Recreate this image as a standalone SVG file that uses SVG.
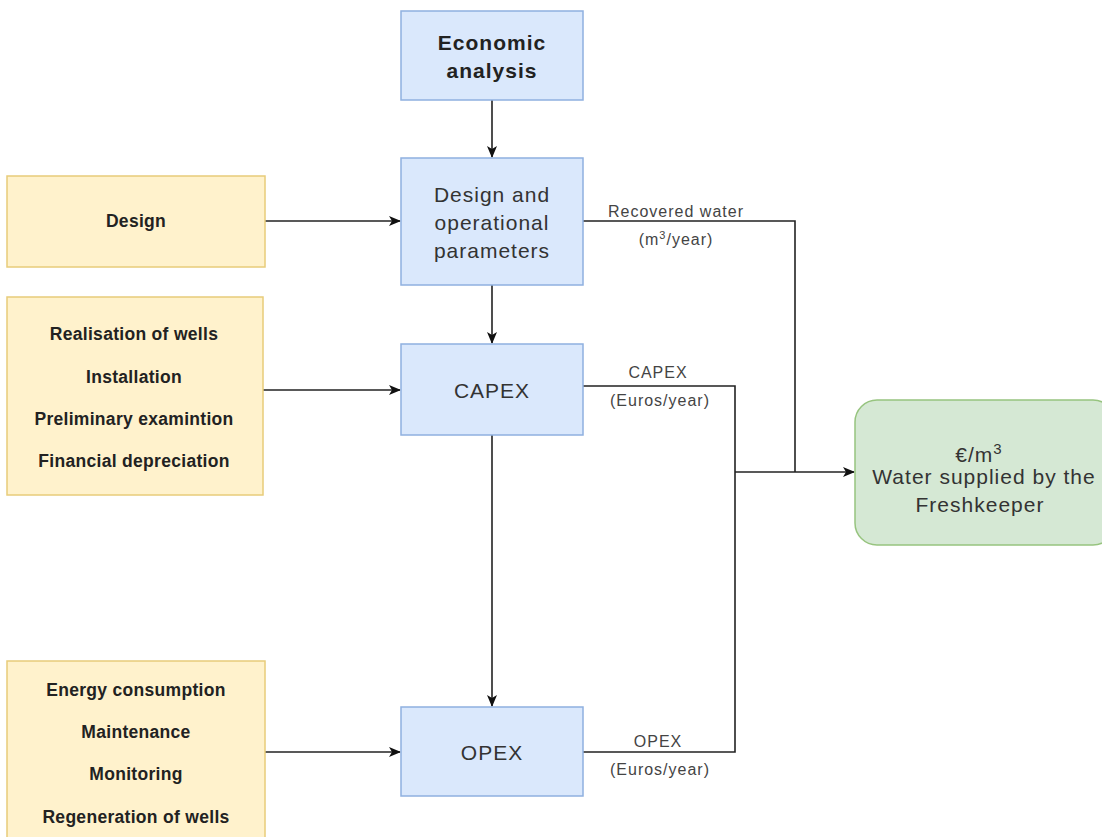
<svg xmlns="http://www.w3.org/2000/svg" width="1102" height="837" viewBox="0 0 1102 837">
  <style>
    .blue { fill: #dae8fc; stroke: #8fb0e0; stroke-width: 1.5; }
    .yellow { fill: #fff2cc; stroke: #e8cc7a; stroke-width: 1.5; }
    .green { fill: #d5e8d4; stroke: #97c47f; stroke-width: 1.5; }
    .t { font-family: "Liberation Sans", Arial, sans-serif; fill: #222; text-anchor: middle; }
    .bold { font-weight: bold; font-size: 17.5px; letter-spacing: 0.3px; }
    .title { font-weight: bold; font-size: 21px; letter-spacing: 1px; }
    .big { font-size: 21px; letter-spacing: 1px; fill: #333; }
    .lbl { font-family: "Liberation Sans", Arial, sans-serif; fill: #444; font-size: 16px; letter-spacing: 1px; text-anchor: middle; }
    .wire { fill: none; stroke: #222; stroke-width: 1.6; }
  </style>
  <defs>
    <marker id="arrow" markerWidth="12" markerHeight="10" refX="11" refY="5" orient="auto" markerUnits="userSpaceOnUse">
      <path d="M0,0 L12,5 L0,10 L3,5 Z" fill="#111"/>
    </marker>
  </defs>
  <rect width="1102" height="837" fill="#ffffff"/>

  <g id="connectors">
    <path class="wire" d="M492,100 V157" marker-end="url(#arrow)"/>
    <path class="wire" d="M265,221 H400" marker-end="url(#arrow)"/>
    <path class="wire" d="M492,285 V343" marker-end="url(#arrow)"/>
    <path class="wire" d="M263,390 H400" marker-end="url(#arrow)"/>
    <path class="wire" d="M492,435 V706" marker-end="url(#arrow)"/>
    <path class="wire" d="M265,752 H400" marker-end="url(#arrow)"/>
    <path class="wire" d="M583,221 H795 V472"/>
    <path class="wire" d="M583,386 H735 V752 H583"/>
    <path class="wire" d="M735,472 H854" marker-end="url(#arrow)"/>
  </g>

  <g id="edge-labels">
    <text class="lbl" x="676" y="217">Recovered water</text>
    <text class="lbl" x="676" y="245">(m<tspan dy="-6" font-size="11">3</tspan><tspan dy="6">/year)</tspan></text>
    <text class="lbl" x="658" y="378">CAPEX</text>
    <text class="lbl" x="660" y="406">(Euros/year)</text>
    <text class="lbl" x="658" y="747">OPEX</text>
    <text class="lbl" x="660" y="775">(Euros/year)</text>
  </g>

  <g id="economic-analysis">
    <rect class="blue" x="401" y="11" width="182" height="89"/>
    <text class="t title" x="492" y="50">Economic</text>
    <text class="t title" x="492" y="78">analysis</text>
  </g>

  <g id="design-parameters">
    <rect class="blue" x="401" y="158" width="182" height="127"/>
    <text class="t big" x="492" y="202">Design and</text>
    <text class="t big" x="492" y="230">operational</text>
    <text class="t big" x="492" y="258">parameters</text>
  </g>

  <g id="capex">
    <rect class="blue" x="401" y="344" width="182" height="91"/>
    <text class="t big" x="492" y="398">CAPEX</text>
  </g>

  <g id="opex">
    <rect class="blue" x="401" y="707" width="182" height="89"/>
    <text class="t big" x="492" y="760">OPEX</text>
  </g>

  <g id="design">
    <rect class="yellow" x="7" y="176" width="258" height="91"/>
    <text class="t bold" x="136" y="227">Design</text>
  </g>

  <g id="capex-items">
    <rect class="yellow" x="7" y="297" width="256" height="198"/>
    <text class="t bold" x="134" y="340">Realisation of wells</text>
    <text class="t bold" x="134" y="383">Installation</text>
    <text class="t bold" x="134" y="425">Preliminary examintion</text>
    <text class="t bold" x="134" y="467">Financial depreciation</text>
  </g>

  <g id="opex-items">
    <rect class="yellow" x="7" y="661" width="258" height="190"/>
    <text class="t bold" x="136" y="696">Energy consumption</text>
    <text class="t bold" x="136" y="738">Maintenance</text>
    <text class="t bold" x="136" y="780">Monitoring</text>
    <text class="t bold" x="136" y="823">Regeneration of wells</text>
  </g>

  <g id="water-cost">
    <rect class="green" x="855" y="400" width="260" height="145" rx="22" ry="22"/>
    <text class="t big" x="979" y="462">€/m<tspan dy="-8" font-size="15">3</tspan></text>
    <text class="t big" x="984" y="484">Water supplied by the</text>
    <text class="t big" x="980" y="512">Freshkeeper</text>
  </g>
</svg>
